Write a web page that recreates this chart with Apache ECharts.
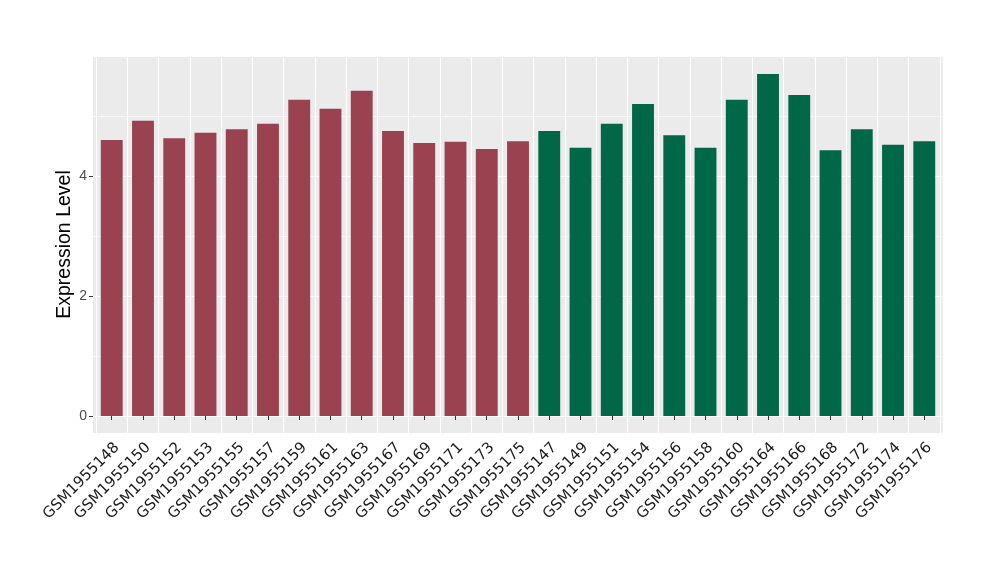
<!DOCTYPE html>
<html>
<head>
<meta charset="utf-8">
<script src="https://cdn.jsdelivr.net/npm/echarts@6/dist/echarts.min.js"></script>
<style>html,body{margin:0;padding:0;background:#fff;}#c{width:1000px;height:580px;}</style>
</head>
<body>
<div id="c"></div>
<script>
const categories = ["GSM1955148","GSM1955150","GSM1955152","GSM1955153","GSM1955155","GSM1955157","GSM1955159","GSM1955161","GSM1955163","GSM1955167","GSM1955169","GSM1955171","GSM1955173","GSM1955175","GSM1955147","GSM1955149","GSM1955151","GSM1955154","GSM1955156","GSM1955158","GSM1955160","GSM1955164","GSM1955166","GSM1955168","GSM1955172","GSM1955174","GSM1955176"];
const values = [4.60,4.92,4.63,4.72,4.78,4.87,5.27,5.12,5.42,4.75,4.55,4.57,4.45,4.58,4.75,4.47,4.87,5.20,4.68,4.47,5.27,5.70,5.35,4.43,4.78,4.52,4.58];
const groups = ["A","A","A","A","A","A","A","A","A","A","A","A","A","A","B","B","B","B","B","B","B","B","B","B","B","B","B"];
const groupColors = {A:"#9A4250", B:"#006847"};
const yTicks = [0,2,4];

const font = "Liberation Sans, Arial, sans-serif";
const chart = echarts.init(document.getElementById('c'), null, {renderer:'canvas'});
chart.setOption({
  animation:false,
  grid:[
    {left:93, right:57, top:56, bottom:147, show:true, backgroundColor:'#EBEBEB', borderWidth:0},
    {left:93, right:57, top:56, bottom:164, show:false},
    {left:96.1, right:60.1, top:56, bottom:147, show:false},
    {left:93, right:57, top:176, bottom:164, show:false}
  ],
  xAxis:[
    {gridIndex:0, type:'value', show:false},
    {gridIndex:1, type:'value', show:false},
    {gridIndex:2, type:'category', data:categories,
     axisLine:{show:false},
     axisTick:{show:true, alignWithLabel:true, length:4, lineStyle:{color:'#333', width:1}},
     axisLabel:{rotate:45, interval:0, fontFamily:"DejaVu Sans, sans-serif", fontSize:15, color:'#1a1a1a', margin:7, align:'right', verticalAlign:'top'},
     splitLine:{show:true, interval:0, lineStyle:{color:'#fff', width:1.1}}
    },
    {gridIndex:3, type:'value', show:false}
  ],
  yAxis:[
    {gridIndex:0, type:'value', min:0, max:1, name:'Expression Level', nameLocation:'middle', nameGap:18,
     nameTextStyle:{fontFamily:font, fontSize:19.5, color:'#000'},
     axisLine:{show:false}, axisTick:{show:false}, axisLabel:{show:false}, splitLine:{show:false}},
    {gridIndex:1, type:'value', min:0, max:6, interval:2,
     axisLine:{show:false}, axisTick:{show:false}, axisLabel:{show:false},
     splitLine:{show:true, lineStyle:{color:'#fff', width:1.1}},
     minorTick:{show:false, splitNumber:2},
     minorSplitLine:{show:true, lineStyle:{color:'#fff', width:0.55}}
    },
    {gridIndex:2, type:'value', min:-0.2833, max:6, show:false},
    {gridIndex:3, type:'value', min:0, max:4, interval:2,
     axisLine:{show:false},
     axisTick:{show:true, length:4, lineStyle:{color:'#333'}},
     axisLabel:{fontFamily:font, fontSize:14, color:'#4D4D4D', margin:6,
       formatter:function(v){return yTicks.indexOf(v)>=0 ? String(v) : '';}},
     splitLine:{show:false}
    }
  ],
  series:[{
    type:'bar', xAxisIndex:2, yAxisIndex:2,
    barWidth:'70%',
    data: values.map((v,i)=>({value:v, itemStyle:{color:groupColors[groups[i]]}}))
  }]
});
</script>
</body>
</html>
